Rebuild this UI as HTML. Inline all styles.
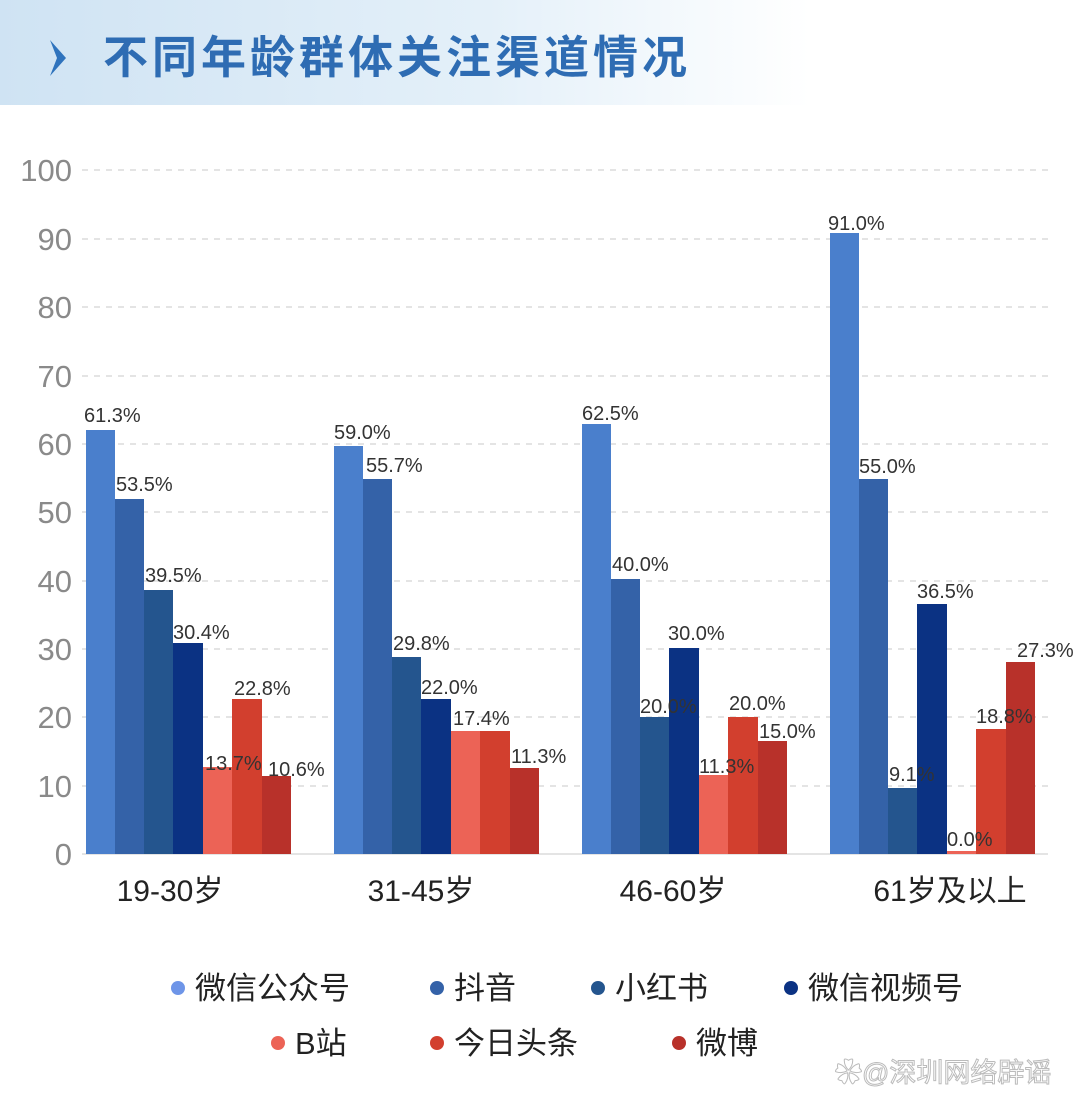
<!DOCTYPE html>
<html><head><meta charset="utf-8"><style>
html,body{margin:0;padding:0;background:#fff;}
svg{display:block;}
text{font-family:"Liberation Sans","Noto Sans CJK SC",sans-serif;}
</style></head><body>
<svg width="1080" height="1107" viewBox="0 0 1080 1107" xmlns="http://www.w3.org/2000/svg">
<defs>
<linearGradient id="hg" x1="0" y1="0" x2="1" y2="0">
<stop offset="0" stop-color="#cfe3f3"/><stop offset="0.45" stop-color="#e4f0f9"/><stop offset="0.75" stop-color="#ffffff"/><stop offset="1" stop-color="#ffffff"/>
</linearGradient>
</defs>
<rect x="0" y="0" width="1080" height="105" fill="url(#hg)"/>
<path d="M50 40 L66 58 L50 76 L57 58 Z" fill="#2f73bd"/>
<text x="103" y="73" font-size="45" font-weight="bold" fill="#2e6cb3" letter-spacing="4">不同年龄群体关注渠道情况</text>
<g stroke="#dcdcdc" stroke-width="1.5" stroke-dasharray="6,6">
<line x1="82" y1="170" x2="1048" y2="170"/><line x1="82" y1="239" x2="1048" y2="239"/><line x1="82" y1="307" x2="1048" y2="307"/><line x1="82" y1="376" x2="1048" y2="376"/><line x1="82" y1="444" x2="1048" y2="444"/><line x1="82" y1="512" x2="1048" y2="512"/><line x1="82" y1="581" x2="1048" y2="581"/><line x1="82" y1="649" x2="1048" y2="649"/><line x1="82" y1="717" x2="1048" y2="717"/><line x1="82" y1="786" x2="1048" y2="786"/>
</g>
<line x1="82" y1="854" x2="1048" y2="854" stroke="#e4e4e4" stroke-width="2"/>
<g font-size="31" fill="#8a8a8a" text-anchor="end">
<text x="72" y="181">100</text><text x="72" y="250">90</text><text x="72" y="318">80</text><text x="72" y="387">70</text><text x="72" y="455">60</text><text x="72" y="523">50</text><text x="72" y="592">40</text><text x="72" y="660">30</text><text x="72" y="728">20</text><text x="72" y="797">10</text><text x="72" y="865">0</text>
</g>
<g>
<rect x="86" y="430" width="29" height="424" fill="#4a7fcc"/>
<rect x="115" y="499" width="29" height="355" fill="#3462a8"/>
<rect x="144" y="590" width="29" height="264" fill="#24558e"/>
<rect x="173" y="643" width="30" height="211" fill="#0b3283"/>
<rect x="203" y="767" width="29" height="87" fill="#ec6356"/>
<rect x="232" y="699" width="30" height="155" fill="#d23f2e"/>
<rect x="262" y="776" width="29" height="78" fill="#b8312a"/>
<rect x="334" y="446" width="29" height="408" fill="#4a7fcc"/>
<rect x="363" y="479" width="29" height="375" fill="#3462a8"/>
<rect x="392" y="657" width="29" height="197" fill="#24558e"/>
<rect x="421" y="699" width="30" height="155" fill="#0b3283"/>
<rect x="451" y="731" width="29" height="123" fill="#ec6356"/>
<rect x="480" y="731" width="30" height="123" fill="#d23f2e"/>
<rect x="510" y="768" width="29" height="86" fill="#b8312a"/>
<rect x="582" y="424" width="29" height="430" fill="#4a7fcc"/>
<rect x="611" y="579" width="29" height="275" fill="#3462a8"/>
<rect x="640" y="717" width="29" height="137" fill="#24558e"/>
<rect x="669" y="648" width="30" height="206" fill="#0b3283"/>
<rect x="699" y="775" width="29" height="79" fill="#ec6356"/>
<rect x="728" y="717" width="30" height="137" fill="#d23f2e"/>
<rect x="758" y="741" width="29" height="113" fill="#b8312a"/>
<rect x="830" y="233" width="29" height="621" fill="#4a7fcc"/>
<rect x="859" y="479" width="29" height="375" fill="#3462a8"/>
<rect x="888" y="788" width="29" height="66" fill="#24558e"/>
<rect x="917" y="604" width="30" height="250" fill="#0b3283"/>
<rect x="947" y="851" width="29" height="3" fill="#ec6356"/>
<rect x="976" y="729" width="30" height="125" fill="#d23f2e"/>
<rect x="1006" y="662" width="29" height="192" fill="#b8312a"/>
</g>
<g font-size="20" fill="#333">
<text x="84" y="422">61.3%</text><text x="116" y="491">53.5%</text><text x="145" y="582">39.5%</text><text x="173" y="639">30.4%</text><text x="205" y="770">13.7%</text><text x="234" y="695">22.8%</text><text x="268" y="776">10.6%</text>
<text x="334" y="439">59.0%</text><text x="366" y="472">55.7%</text><text x="393" y="650">29.8%</text><text x="421" y="694">22.0%</text><text x="453" y="725">17.4%</text><text x="511" y="763">11.3%</text>
<text x="582" y="420">62.5%</text><text x="612" y="571">40.0%</text><text x="640" y="713">20.0%</text><text x="668" y="640">30.0%</text><text x="699" y="773">11.3%</text><text x="729" y="710">20.0%</text><text x="759" y="738">15.0%</text>
<text x="828" y="230">91.0%</text><text x="859" y="473">55.0%</text><text x="889" y="781">9.1%</text><text x="917" y="598">36.5%</text><text x="947" y="846">0.0%</text><text x="976" y="723">18.8%</text><text x="1017" y="657">27.3%</text>
</g>
<g font-size="30" fill="#222" text-anchor="middle">
<text x="170" y="901">19-30岁</text><text x="421" y="901">31-45岁</text><text x="673" y="901">46-60岁</text><text x="950" y="901">61岁及以上</text>
</g>
<g font-size="31" fill="#222">
<circle cx="178" cy="988" r="7" fill="#6e95e8"/><text x="195" y="999">微信公众号</text>
<circle cx="437" cy="988" r="7" fill="#3462a8"/><text x="454" y="999">抖音</text>
<circle cx="598" cy="988" r="7" fill="#24558e"/><text x="615" y="999">小红书</text>
<circle cx="791" cy="988" r="7" fill="#0b3283"/><text x="808" y="999">微信视频号</text>
<circle cx="278" cy="1043" r="7" fill="#ec6356"/><text x="295" y="1054">B站</text>
<circle cx="437" cy="1043" r="7" fill="#d23f2e"/><text x="454" y="1054">今日头条</text>
<circle cx="679" cy="1043" r="7" fill="#b8312a"/><text x="696" y="1054">微博</text>
</g>
<text x="835" y="1082" font-size="27" fill="#fff" stroke="#bbb" stroke-width="1">✿@深圳网络辟谣</text>
</svg>
</body></html>
